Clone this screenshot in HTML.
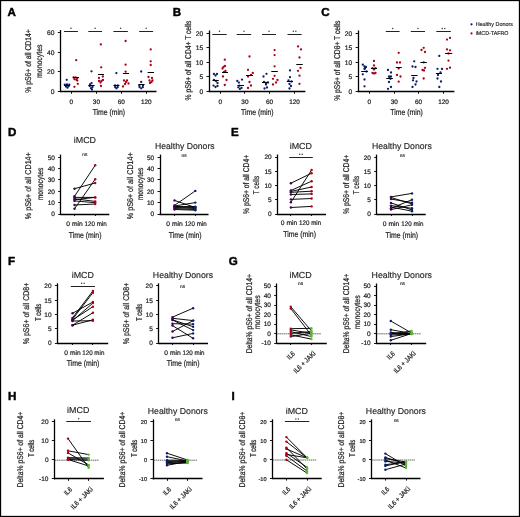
<!DOCTYPE html>
<html><head><meta charset="utf-8"><title>Figure</title>
<style>
html,body{margin:0;padding:0;background:#fff;width:520px;height:517px;overflow:hidden;}
svg{display:block;will-change:transform;}
text{font-family:"Liberation Sans", sans-serif;stroke:#231f20;stroke-width:0.22px;text-rendering:geometricPrecision;}
text[font-weight="bold"]{stroke:#000;stroke-width:0.45px;}
text.t{stroke-width:0.15px;}
</style></head><body>
<svg width="520" height="517" viewBox="0 0 520 517" font-family='&quot;Liberation Sans&quot;, sans-serif' fill="#231f20">
<rect x="0" y="0" width="520" height="517" fill="#fff"/>
<text x="7.4" y="15.71" font-size="11.6" font-weight="bold" fill="#000">A</text>
<line x1="60.5" y1="30" x2="60.5" y2="92.1" stroke="#000" stroke-width="1.3"/>
<line x1="57.8" y1="91.5" x2="60.5" y2="91.5" stroke="#000" stroke-width="0.9"/>
<text x="54.5" y="94.01" font-size="6.7" text-anchor="end">0</text>
<line x1="57.8" y1="71.5" x2="60.5" y2="71.5" stroke="#000" stroke-width="0.9"/>
<text x="54.5" y="74.38" font-size="6.7" text-anchor="end">20</text>
<line x1="57.8" y1="52.5" x2="60.5" y2="52.5" stroke="#000" stroke-width="0.9"/>
<text x="54.5" y="54.75" font-size="6.7" text-anchor="end">40</text>
<line x1="57.8" y1="32.5" x2="60.5" y2="32.5" stroke="#000" stroke-width="0.9"/>
<text x="54.5" y="35.11" font-size="6.7" text-anchor="end">60</text>
<line x1="60" y1="91.5" x2="156.5" y2="91.5" stroke="#000" stroke-width="1.3"/>
<line x1="71.5" y1="91.6" x2="71.5" y2="93.8" stroke="#000" stroke-width="0.9"/>
<line x1="96.5" y1="91.6" x2="96.5" y2="93.8" stroke="#000" stroke-width="0.9"/>
<line x1="121.5" y1="91.6" x2="121.5" y2="93.8" stroke="#000" stroke-width="0.9"/>
<line x1="146.5" y1="91.6" x2="146.5" y2="93.8" stroke="#000" stroke-width="0.9"/>
<text x="71.2" y="103.9" font-size="6.4" text-anchor="middle">0</text>
<text x="96.4" y="103.9" font-size="6.4" text-anchor="middle">30</text>
<text x="121.3" y="103.9" font-size="6.4" text-anchor="middle">60</text>
<text x="146.3" y="103.9" font-size="6.4" text-anchor="middle">120</text>
<text x="108.9" y="115.4" font-size="8.4" text-anchor="middle" textLength="32.5" lengthAdjust="spacingAndGlyphs">Time (min)</text>
<text x="31.2" y="61" font-size="8.4" text-anchor="middle" textLength="63.5" lengthAdjust="spacingAndGlyphs" transform="rotate(-90 31.2 61)">% pS6+ of all CD14+</text>
<text x="42" y="61.2" font-size="8.4" text-anchor="middle" textLength="33.4" lengthAdjust="spacingAndGlyphs" transform="rotate(-90 42 61.2)">monocytes</text>
<circle cx="66.7" cy="79.8" r="1.15" fill="#0b1f68"/>
<circle cx="64.8" cy="84.6" r="1.15" fill="#0b1f68"/>
<circle cx="67" cy="84.3" r="1.15" fill="#0b1f68"/>
<circle cx="69.3" cy="84.6" r="1.15" fill="#0b1f68"/>
<circle cx="66" cy="86.5" r="1.15" fill="#0b1f68"/>
<circle cx="67.5" cy="87.7" r="1.15" fill="#0b1f68"/>
<circle cx="68.5" cy="86.2" r="1.15" fill="#0b1f68"/>
<circle cx="76.2" cy="60.2" r="1.15" fill="#aa001a"/>
<circle cx="73.5" cy="77.5" r="1.15" fill="#aa001a"/>
<circle cx="75.5" cy="77.3" r="1.15" fill="#aa001a"/>
<circle cx="77.2" cy="78.3" r="1.15" fill="#aa001a"/>
<circle cx="74.5" cy="79.2" r="1.15" fill="#aa001a"/>
<circle cx="76.3" cy="79.8" r="1.15" fill="#aa001a"/>
<circle cx="77.3" cy="80.6" r="1.15" fill="#aa001a"/>
<circle cx="77.8" cy="83.8" r="1.15" fill="#aa001a"/>
<circle cx="74.4" cy="86.8" r="1.15" fill="#aa001a"/>
<line x1="64" y1="85.5" x2="70.1" y2="85.5" stroke="#000" stroke-width="1"/>
<line x1="73" y1="77.5" x2="79" y2="77.5" stroke="#000" stroke-width="1"/>
<circle cx="91.5" cy="71.3" r="1.15" fill="#0b1f68"/>
<circle cx="91.5" cy="83.2" r="1.15" fill="#0b1f68"/>
<circle cx="90" cy="84.5" r="1.15" fill="#0b1f68"/>
<circle cx="89.7" cy="86" r="1.15" fill="#0b1f68"/>
<circle cx="92.5" cy="87" r="1.15" fill="#0b1f68"/>
<circle cx="91" cy="88.2" r="1.15" fill="#0b1f68"/>
<circle cx="92" cy="89.5" r="1.15" fill="#0b1f68"/>
<circle cx="100.8" cy="44.4" r="1.15" fill="#aa001a"/>
<circle cx="101.2" cy="67.3" r="1.15" fill="#aa001a"/>
<circle cx="99" cy="77.9" r="1.15" fill="#aa001a"/>
<circle cx="102.8" cy="76.5" r="1.15" fill="#aa001a"/>
<circle cx="99" cy="81" r="1.15" fill="#aa001a"/>
<circle cx="101.5" cy="81" r="1.15" fill="#aa001a"/>
<circle cx="103" cy="80" r="1.15" fill="#aa001a"/>
<circle cx="100.5" cy="82.5" r="1.15" fill="#aa001a"/>
<circle cx="101" cy="86" r="1.15" fill="#aa001a"/>
<line x1="88.4" y1="85.5" x2="94.6" y2="85.5" stroke="#000" stroke-width="1"/>
<line x1="98" y1="74.5" x2="104" y2="74.5" stroke="#000" stroke-width="1"/>
<circle cx="116.4" cy="73.1" r="1.15" fill="#0b1f68"/>
<circle cx="115" cy="85.5" r="1.15" fill="#0b1f68"/>
<circle cx="117.8" cy="85.5" r="1.15" fill="#0b1f68"/>
<circle cx="115.2" cy="87.2" r="1.15" fill="#0b1f68"/>
<circle cx="117.6" cy="87.2" r="1.15" fill="#0b1f68"/>
<circle cx="116.4" cy="88.3" r="1.15" fill="#0b1f68"/>
<circle cx="125.6" cy="41" r="1.15" fill="#aa001a"/>
<circle cx="125.6" cy="64.7" r="1.15" fill="#aa001a"/>
<circle cx="125.6" cy="71.7" r="1.15" fill="#aa001a"/>
<circle cx="124" cy="80.5" r="1.15" fill="#aa001a"/>
<circle cx="127" cy="80.5" r="1.15" fill="#aa001a"/>
<circle cx="126" cy="82" r="1.15" fill="#aa001a"/>
<circle cx="128.5" cy="83.5" r="1.15" fill="#aa001a"/>
<circle cx="123" cy="86.5" r="1.15" fill="#aa001a"/>
<circle cx="125" cy="84" r="1.15" fill="#aa001a"/>
<line x1="113.5" y1="85.5" x2="119.5" y2="85.5" stroke="#000" stroke-width="1"/>
<line x1="122.9" y1="73.5" x2="129" y2="73.5" stroke="#000" stroke-width="1"/>
<circle cx="141.2" cy="71.5" r="1.15" fill="#0b1f68"/>
<circle cx="141.2" cy="81.9" r="1.15" fill="#0b1f68"/>
<circle cx="139.3" cy="85.5" r="1.15" fill="#0b1f68"/>
<circle cx="143" cy="85.5" r="1.15" fill="#0b1f68"/>
<circle cx="139.6" cy="87.2" r="1.15" fill="#0b1f68"/>
<circle cx="142.8" cy="87.2" r="1.15" fill="#0b1f68"/>
<circle cx="141.2" cy="88.3" r="1.15" fill="#0b1f68"/>
<circle cx="150.7" cy="49.4" r="1.15" fill="#aa001a"/>
<circle cx="150.7" cy="61.3" r="1.15" fill="#aa001a"/>
<circle cx="150.7" cy="65" r="1.15" fill="#aa001a"/>
<circle cx="148.5" cy="77" r="1.15" fill="#aa001a"/>
<circle cx="152" cy="78" r="1.15" fill="#aa001a"/>
<circle cx="149.5" cy="80.5" r="1.15" fill="#aa001a"/>
<circle cx="151.5" cy="82" r="1.15" fill="#aa001a"/>
<circle cx="150" cy="83" r="1.15" fill="#aa001a"/>
<circle cx="152.5" cy="80.5" r="1.15" fill="#aa001a"/>
<line x1="138.5" y1="84.5" x2="144.6" y2="84.5" stroke="#000" stroke-width="1"/>
<line x1="147.6" y1="72.5" x2="154" y2="72.5" stroke="#000" stroke-width="1"/>
<line x1="64" y1="31.5" x2="77.9" y2="31.5" stroke="#222" stroke-width="1"/>
<circle cx="70.95" cy="28.3" r="0.72" fill="#333"/>
<line x1="88.3" y1="31.5" x2="102" y2="31.5" stroke="#222" stroke-width="1"/>
<circle cx="95.15" cy="28.3" r="0.72" fill="#333"/>
<line x1="113.4" y1="31.5" x2="127.9" y2="31.5" stroke="#222" stroke-width="1"/>
<circle cx="120.65" cy="28.3" r="0.72" fill="#333"/>
<line x1="139.2" y1="31.5" x2="153.1" y2="31.5" stroke="#222" stroke-width="1"/>
<circle cx="146.15" cy="28.3" r="0.72" fill="#333"/>
<text x="172.8" y="15.71" font-size="11.6" font-weight="bold" fill="#000">B</text>
<line x1="209.5" y1="30.5" x2="209.5" y2="92.1" stroke="#000" stroke-width="1.3"/>
<line x1="206.5" y1="91.5" x2="209.2" y2="91.5" stroke="#000" stroke-width="0.9"/>
<text x="203.2" y="94.01" font-size="6.7" text-anchor="end">0</text>
<line x1="206.5" y1="76.5" x2="209.2" y2="76.5" stroke="#000" stroke-width="0.9"/>
<text x="203.2" y="79.39" font-size="6.7" text-anchor="end">5</text>
<line x1="206.5" y1="62.5" x2="209.2" y2="62.5" stroke="#000" stroke-width="0.9"/>
<text x="203.2" y="64.76" font-size="6.7" text-anchor="end">10</text>
<line x1="206.5" y1="47.5" x2="209.2" y2="47.5" stroke="#000" stroke-width="0.9"/>
<text x="203.2" y="50.14" font-size="6.7" text-anchor="end">15</text>
<line x1="206.5" y1="33.5" x2="209.2" y2="33.5" stroke="#000" stroke-width="0.9"/>
<text x="203.2" y="35.51" font-size="6.7" text-anchor="end">20</text>
<line x1="208.7" y1="91.5" x2="305.4" y2="91.5" stroke="#000" stroke-width="1.3"/>
<line x1="220.5" y1="91.6" x2="220.5" y2="93.8" stroke="#000" stroke-width="0.9"/>
<line x1="244.5" y1="91.6" x2="244.5" y2="93.8" stroke="#000" stroke-width="0.9"/>
<line x1="269.5" y1="91.6" x2="269.5" y2="93.8" stroke="#000" stroke-width="0.9"/>
<line x1="294.5" y1="91.6" x2="294.5" y2="93.8" stroke="#000" stroke-width="0.9"/>
<text x="220.2" y="103.9" font-size="6.4" text-anchor="middle">0</text>
<text x="244.9" y="103.9" font-size="6.4" text-anchor="middle">30</text>
<text x="269.6" y="103.9" font-size="6.4" text-anchor="middle">60</text>
<text x="294.6" y="103.9" font-size="6.4" text-anchor="middle">120</text>
<text x="257.3" y="115.4" font-size="8.4" text-anchor="middle" textLength="32.5" lengthAdjust="spacingAndGlyphs">Time (min)</text>
<text x="190.6" y="60.5" font-size="8.4" text-anchor="middle" textLength="79.8" lengthAdjust="spacingAndGlyphs" transform="rotate(-90 190.6 60.5)">% pS6+ of all CD4+ T cells</text>
<circle cx="213.9" cy="74" r="1.15" fill="#0b1f68"/>
<circle cx="217" cy="74" r="1.15" fill="#0b1f68"/>
<circle cx="215.5" cy="75.5" r="1.15" fill="#0b1f68"/>
<circle cx="214" cy="80" r="1.15" fill="#0b1f68"/>
<circle cx="216" cy="81" r="1.15" fill="#0b1f68"/>
<circle cx="217.5" cy="83" r="1.15" fill="#0b1f68"/>
<circle cx="213.5" cy="85.6" r="1.15" fill="#0b1f68"/>
<circle cx="215.5" cy="87" r="1.15" fill="#0b1f68"/>
<circle cx="217.5" cy="86" r="1.15" fill="#0b1f68"/>
<circle cx="224.8" cy="59.7" r="1.15" fill="#aa001a"/>
<circle cx="223.5" cy="67" r="1.15" fill="#aa001a"/>
<circle cx="225" cy="66" r="1.15" fill="#aa001a"/>
<circle cx="222.5" cy="68.5" r="1.15" fill="#aa001a"/>
<circle cx="225.5" cy="71" r="1.15" fill="#aa001a"/>
<circle cx="224" cy="72" r="1.15" fill="#aa001a"/>
<circle cx="223" cy="76.5" r="1.15" fill="#aa001a"/>
<circle cx="226.5" cy="80" r="1.15" fill="#aa001a"/>
<circle cx="224.8" cy="85" r="1.15" fill="#aa001a"/>
<line x1="212.5" y1="80.5" x2="218.8" y2="80.5" stroke="#000" stroke-width="1"/>
<line x1="222" y1="72.5" x2="228" y2="72.5" stroke="#000" stroke-width="1"/>
<circle cx="237.3" cy="81" r="1.15" fill="#0b1f68"/>
<circle cx="238.9" cy="82.6" r="1.15" fill="#0b1f68"/>
<circle cx="242" cy="79.6" r="1.15" fill="#0b1f68"/>
<circle cx="238.3" cy="87.3" r="1.15" fill="#0b1f68"/>
<circle cx="239.9" cy="88.9" r="1.15" fill="#0b1f68"/>
<circle cx="241.5" cy="87.9" r="1.15" fill="#0b1f68"/>
<circle cx="239.4" cy="85.7" r="1.15" fill="#0b1f68"/>
<circle cx="249.5" cy="56.5" r="1.15" fill="#aa001a"/>
<circle cx="248" cy="69.8" r="1.15" fill="#aa001a"/>
<circle cx="252.8" cy="73" r="1.15" fill="#aa001a"/>
<circle cx="248" cy="76.5" r="1.15" fill="#aa001a"/>
<circle cx="251" cy="75" r="1.15" fill="#aa001a"/>
<circle cx="249.5" cy="82" r="1.15" fill="#aa001a"/>
<circle cx="251" cy="85.5" r="1.15" fill="#aa001a"/>
<circle cx="248" cy="88" r="1.15" fill="#aa001a"/>
<line x1="237.3" y1="85.5" x2="244" y2="85.5" stroke="#000" stroke-width="1"/>
<line x1="246" y1="75.5" x2="253" y2="75.5" stroke="#000" stroke-width="1"/>
<circle cx="266.5" cy="73.8" r="1.15" fill="#0b1f68"/>
<circle cx="263.5" cy="76.5" r="1.15" fill="#0b1f68"/>
<circle cx="264" cy="82" r="1.15" fill="#0b1f68"/>
<circle cx="266" cy="83" r="1.15" fill="#0b1f68"/>
<circle cx="268" cy="82.5" r="1.15" fill="#0b1f68"/>
<circle cx="264.5" cy="88.5" r="1.15" fill="#0b1f68"/>
<circle cx="267" cy="87.5" r="1.15" fill="#0b1f68"/>
<circle cx="266" cy="84.5" r="1.15" fill="#0b1f68"/>
<circle cx="274.6" cy="50.1" r="1.15" fill="#aa001a"/>
<circle cx="274.6" cy="55.1" r="1.15" fill="#aa001a"/>
<circle cx="274.6" cy="66.3" r="1.15" fill="#aa001a"/>
<circle cx="274.6" cy="75.8" r="1.15" fill="#aa001a"/>
<circle cx="273" cy="78.8" r="1.15" fill="#aa001a"/>
<circle cx="277.5" cy="80" r="1.15" fill="#aa001a"/>
<circle cx="276" cy="82.5" r="1.15" fill="#aa001a"/>
<circle cx="273" cy="84.5" r="1.15" fill="#aa001a"/>
<line x1="262" y1="82.5" x2="268.5" y2="82.5" stroke="#000" stroke-width="1"/>
<line x1="271.3" y1="71.5" x2="277.8" y2="71.5" stroke="#000" stroke-width="1"/>
<circle cx="290" cy="70.4" r="1.15" fill="#0b1f68"/>
<circle cx="290" cy="77.2" r="1.15" fill="#0b1f68"/>
<circle cx="288.5" cy="80.5" r="1.15" fill="#0b1f68"/>
<circle cx="291.5" cy="81.5" r="1.15" fill="#0b1f68"/>
<circle cx="289.5" cy="84" r="1.15" fill="#0b1f68"/>
<circle cx="291" cy="86" r="1.15" fill="#0b1f68"/>
<circle cx="289.5" cy="88.5" r="1.15" fill="#0b1f68"/>
<circle cx="298.1" cy="46.4" r="1.15" fill="#aa001a"/>
<circle cx="301" cy="49.4" r="1.15" fill="#aa001a"/>
<circle cx="299.5" cy="57.5" r="1.15" fill="#aa001a"/>
<circle cx="300.5" cy="67.9" r="1.15" fill="#aa001a"/>
<circle cx="298" cy="70.8" r="1.15" fill="#aa001a"/>
<circle cx="299.5" cy="75.7" r="1.15" fill="#aa001a"/>
<circle cx="299.5" cy="83.8" r="1.15" fill="#aa001a"/>
<line x1="286.8" y1="81.5" x2="293" y2="81.5" stroke="#000" stroke-width="1"/>
<line x1="296.3" y1="64.5" x2="302.7" y2="64.5" stroke="#000" stroke-width="1"/>
<line x1="212.3" y1="34.5" x2="226.7" y2="34.5" stroke="#222" stroke-width="1"/>
<circle cx="219.5" cy="31.3" r="0.72" fill="#333"/>
<line x1="236.7" y1="34.5" x2="251.2" y2="34.5" stroke="#222" stroke-width="1"/>
<circle cx="243.95" cy="31.3" r="0.72" fill="#333"/>
<line x1="262" y1="34.5" x2="276" y2="34.5" stroke="#222" stroke-width="1"/>
<circle cx="269" cy="31.3" r="0.72" fill="#333"/>
<line x1="287.5" y1="34.5" x2="301.7" y2="34.5" stroke="#222" stroke-width="1"/>
<circle cx="293.35" cy="31.3" r="0.72" fill="#333"/>
<circle cx="295.85" cy="31.3" r="0.72" fill="#333"/>
<text x="321.2" y="15.71" font-size="11.6" font-weight="bold" fill="#000">C</text>
<line x1="358.5" y1="30.5" x2="358.5" y2="92.1" stroke="#000" stroke-width="1.3"/>
<line x1="355.6" y1="91.5" x2="358.3" y2="91.5" stroke="#000" stroke-width="0.9"/>
<text x="352.3" y="94.01" font-size="6.7" text-anchor="end">0</text>
<line x1="355.6" y1="76.5" x2="358.3" y2="76.5" stroke="#000" stroke-width="0.9"/>
<text x="352.3" y="79.39" font-size="6.7" text-anchor="end">5</text>
<line x1="355.6" y1="62.5" x2="358.3" y2="62.5" stroke="#000" stroke-width="0.9"/>
<text x="352.3" y="64.76" font-size="6.7" text-anchor="end">10</text>
<line x1="355.6" y1="47.5" x2="358.3" y2="47.5" stroke="#000" stroke-width="0.9"/>
<text x="352.3" y="50.14" font-size="6.7" text-anchor="end">15</text>
<line x1="355.6" y1="33.5" x2="358.3" y2="33.5" stroke="#000" stroke-width="0.9"/>
<text x="352.3" y="35.51" font-size="6.7" text-anchor="end">20</text>
<line x1="357.8" y1="91.5" x2="454.4" y2="91.5" stroke="#000" stroke-width="1.3"/>
<line x1="369.5" y1="91.6" x2="369.5" y2="93.8" stroke="#000" stroke-width="0.9"/>
<line x1="394.5" y1="91.6" x2="394.5" y2="93.8" stroke="#000" stroke-width="0.9"/>
<line x1="418.5" y1="91.6" x2="418.5" y2="93.8" stroke="#000" stroke-width="0.9"/>
<line x1="443.5" y1="91.6" x2="443.5" y2="93.8" stroke="#000" stroke-width="0.9"/>
<text x="369.4" y="103.9" font-size="6.4" text-anchor="middle">0</text>
<text x="394.2" y="103.9" font-size="6.4" text-anchor="middle">30</text>
<text x="418.6" y="103.9" font-size="6.4" text-anchor="middle">60</text>
<text x="443.6" y="103.9" font-size="6.4" text-anchor="middle">120</text>
<text x="406.6" y="115.4" font-size="8.4" text-anchor="middle" textLength="32.5" lengthAdjust="spacingAndGlyphs">Time (min)</text>
<text x="340.1" y="60.7" font-size="8.4" text-anchor="middle" textLength="80.3" lengthAdjust="spacingAndGlyphs" transform="rotate(-90 340.1 60.7)">% pS6+ of all CD8+ T cells</text>
<circle cx="362.8" cy="64.7" r="1.15" fill="#0b1f68"/>
<circle cx="364.5" cy="66.5" r="1.15" fill="#0b1f68"/>
<circle cx="366" cy="67" r="1.15" fill="#0b1f68"/>
<circle cx="365" cy="68.2" r="1.15" fill="#0b1f68"/>
<circle cx="364.5" cy="69" r="1.15" fill="#0b1f68"/>
<circle cx="366.5" cy="71.5" r="1.15" fill="#0b1f68"/>
<circle cx="362.8" cy="74.3" r="1.15" fill="#0b1f68"/>
<circle cx="364.5" cy="79.5" r="1.15" fill="#0b1f68"/>
<circle cx="364.5" cy="86.3" r="1.15" fill="#0b1f68"/>
<circle cx="374" cy="61" r="1.15" fill="#aa001a"/>
<circle cx="374" cy="65.5" r="1.15" fill="#aa001a"/>
<circle cx="372.5" cy="68.2" r="1.15" fill="#aa001a"/>
<circle cx="375.5" cy="68.2" r="1.15" fill="#aa001a"/>
<circle cx="374" cy="69.5" r="1.15" fill="#aa001a"/>
<circle cx="372.5" cy="73" r="1.15" fill="#aa001a"/>
<circle cx="374" cy="73.5" r="1.15" fill="#aa001a"/>
<circle cx="375.5" cy="73" r="1.15" fill="#aa001a"/>
<line x1="361.2" y1="71.5" x2="367.8" y2="71.5" stroke="#000" stroke-width="1"/>
<line x1="371" y1="68.5" x2="377" y2="68.5" stroke="#000" stroke-width="1"/>
<circle cx="388" cy="70" r="1.15" fill="#0b1f68"/>
<circle cx="391" cy="72.5" r="1.15" fill="#0b1f68"/>
<circle cx="389" cy="76.5" r="1.15" fill="#0b1f68"/>
<circle cx="391" cy="76.5" r="1.15" fill="#0b1f68"/>
<circle cx="389.5" cy="78" r="1.15" fill="#0b1f68"/>
<circle cx="390.5" cy="78.8" r="1.15" fill="#0b1f68"/>
<circle cx="389" cy="82" r="1.15" fill="#0b1f68"/>
<circle cx="388" cy="88.8" r="1.15" fill="#0b1f68"/>
<circle cx="391" cy="87" r="1.15" fill="#0b1f68"/>
<circle cx="398.7" cy="52.8" r="1.15" fill="#aa001a"/>
<circle cx="397" cy="62.5" r="1.15" fill="#aa001a"/>
<circle cx="400" cy="62.5" r="1.15" fill="#aa001a"/>
<circle cx="398.7" cy="68.5" r="1.15" fill="#aa001a"/>
<circle cx="397" cy="75" r="1.15" fill="#aa001a"/>
<circle cx="400.5" cy="76.5" r="1.15" fill="#aa001a"/>
<circle cx="398.7" cy="81.7" r="1.15" fill="#aa001a"/>
<line x1="386.2" y1="78.5" x2="392.9" y2="78.5" stroke="#000" stroke-width="1"/>
<line x1="395.8" y1="67.5" x2="401.8" y2="67.5" stroke="#000" stroke-width="1"/>
<circle cx="414.2" cy="61.3" r="1.15" fill="#0b1f68"/>
<circle cx="412.5" cy="66.5" r="1.15" fill="#0b1f68"/>
<circle cx="415.5" cy="67" r="1.15" fill="#0b1f68"/>
<circle cx="413.5" cy="78" r="1.15" fill="#0b1f68"/>
<circle cx="413" cy="80.3" r="1.15" fill="#0b1f68"/>
<circle cx="416.5" cy="81.5" r="1.15" fill="#0b1f68"/>
<circle cx="415.5" cy="84.5" r="1.15" fill="#0b1f68"/>
<circle cx="412.5" cy="87" r="1.15" fill="#0b1f68"/>
<circle cx="423.7" cy="47.8" r="1.15" fill="#aa001a"/>
<circle cx="421.5" cy="50" r="1.15" fill="#aa001a"/>
<circle cx="425" cy="52" r="1.15" fill="#aa001a"/>
<circle cx="423.7" cy="62.3" r="1.15" fill="#aa001a"/>
<circle cx="425" cy="67.8" r="1.15" fill="#aa001a"/>
<circle cx="422.5" cy="70" r="1.15" fill="#aa001a"/>
<circle cx="424" cy="70.5" r="1.15" fill="#aa001a"/>
<circle cx="423.7" cy="78.5" r="1.15" fill="#aa001a"/>
<line x1="411.2" y1="75.5" x2="417.6" y2="75.5" stroke="#000" stroke-width="1"/>
<line x1="420.3" y1="62.5" x2="426.8" y2="62.5" stroke="#000" stroke-width="1"/>
<circle cx="439.3" cy="55.9" r="1.15" fill="#0b1f68"/>
<circle cx="437.5" cy="68.8" r="1.15" fill="#0b1f68"/>
<circle cx="442" cy="69" r="1.15" fill="#0b1f68"/>
<circle cx="440.5" cy="72.5" r="1.15" fill="#0b1f68"/>
<circle cx="438" cy="75" r="1.15" fill="#0b1f68"/>
<circle cx="437.5" cy="78.5" r="1.15" fill="#0b1f68"/>
<circle cx="441" cy="81.5" r="1.15" fill="#0b1f68"/>
<circle cx="439.3" cy="87" r="1.15" fill="#0b1f68"/>
<circle cx="447" cy="39.6" r="1.15" fill="#aa001a"/>
<circle cx="450" cy="37.9" r="1.15" fill="#aa001a"/>
<circle cx="447" cy="49.4" r="1.15" fill="#aa001a"/>
<circle cx="450" cy="50.3" r="1.15" fill="#aa001a"/>
<circle cx="448.5" cy="53.5" r="1.15" fill="#aa001a"/>
<circle cx="448.5" cy="60.6" r="1.15" fill="#aa001a"/>
<circle cx="447" cy="68.8" r="1.15" fill="#aa001a"/>
<circle cx="450" cy="67.7" r="1.15" fill="#aa001a"/>
<line x1="435.9" y1="73.5" x2="442" y2="73.5" stroke="#000" stroke-width="1"/>
<line x1="445.1" y1="53.5" x2="452.2" y2="53.5" stroke="#000" stroke-width="1"/>
<line x1="385.8" y1="31.5" x2="399.6" y2="31.5" stroke="#222" stroke-width="1"/>
<circle cx="392.7" cy="28.5" r="0.72" fill="#333"/>
<line x1="410.8" y1="31.5" x2="425" y2="31.5" stroke="#222" stroke-width="1"/>
<circle cx="417.9" cy="28.5" r="0.72" fill="#333"/>
<line x1="436.3" y1="31.5" x2="450.8" y2="31.5" stroke="#222" stroke-width="1"/>
<circle cx="442.3" cy="28.5" r="0.72" fill="#333"/>
<circle cx="444.8" cy="28.5" r="0.72" fill="#333"/>
<circle cx="471.5" cy="24.3" r="1.1" fill="#0b1f68"/>
<text x="475.7" y="26.2" font-size="5.6" textLength="37.3" lengthAdjust="spacingAndGlyphs" class="t">Healthy Donors</text>
<circle cx="471.5" cy="33.4" r="1.1" fill="#aa001a"/>
<text x="475.7" y="35.3" font-size="5.6" textLength="32.8" lengthAdjust="spacingAndGlyphs" class="t">iMCD-TAFRO</text>
<text x="8" y="135.91" font-size="11.6" font-weight="bold" fill="#000">D</text>
<line x1="60.5" y1="154.6" x2="60.5" y2="214.5" stroke="#000" stroke-width="1.3"/>
<line x1="58.2" y1="214.5" x2="60.8" y2="214.5" stroke="#000" stroke-width="0.9"/>
<text x="54.9" y="216.34" font-size="6.5" text-anchor="end">0</text>
<line x1="58.2" y1="202.5" x2="60.8" y2="202.5" stroke="#000" stroke-width="0.9"/>
<text x="54.9" y="204.98" font-size="6.5" text-anchor="end">10</text>
<line x1="58.2" y1="191.5" x2="60.8" y2="191.5" stroke="#000" stroke-width="0.9"/>
<text x="54.9" y="193.62" font-size="6.5" text-anchor="end">20</text>
<line x1="58.2" y1="179.5" x2="60.8" y2="179.5" stroke="#000" stroke-width="0.9"/>
<text x="54.9" y="182.26" font-size="6.5" text-anchor="end">30</text>
<line x1="58.2" y1="168.5" x2="60.8" y2="168.5" stroke="#000" stroke-width="0.9"/>
<text x="54.9" y="170.9" font-size="6.5" text-anchor="end">40</text>
<line x1="58.2" y1="157.5" x2="60.8" y2="157.5" stroke="#000" stroke-width="0.9"/>
<text x="54.9" y="159.54" font-size="6.5" text-anchor="end">50</text>
<line x1="60.3" y1="214.5" x2="109.3" y2="214.5" stroke="#000" stroke-width="1.3"/>
<line x1="74.5" y1="214" x2="74.5" y2="216" stroke="#000" stroke-width="0.9"/>
<line x1="95.5" y1="214" x2="95.5" y2="216" stroke="#000" stroke-width="0.9"/>
<text x="84.9" y="143.05" font-size="8.7" text-anchor="middle" textLength="22.2" lengthAdjust="spacingAndGlyphs" class="t">iMCD</text>
<text x="84.9" y="155.8" font-size="4.8" text-anchor="middle" class="t">ns</text>
<line x1="74.5" y1="188.7" x2="95.2" y2="183" stroke="#000" stroke-width="0.95"/>
<line x1="74.5" y1="196.3" x2="95.2" y2="165.3" stroke="#000" stroke-width="0.95"/>
<line x1="74.5" y1="208.8" x2="95.2" y2="179.2" stroke="#000" stroke-width="0.95"/>
<line x1="74.5" y1="197.4" x2="95.2" y2="197.4" stroke="#000" stroke-width="0.95"/>
<line x1="74.5" y1="198.8" x2="95.2" y2="201.4" stroke="#000" stroke-width="0.95"/>
<line x1="74.5" y1="199.7" x2="95.2" y2="197.4" stroke="#000" stroke-width="0.95"/>
<line x1="74.5" y1="200.9" x2="95.2" y2="202.7" stroke="#000" stroke-width="0.95"/>
<line x1="74.5" y1="205" x2="95.2" y2="204" stroke="#000" stroke-width="0.95"/>
<circle cx="74.5" cy="188.7" r="1.2" fill="#3a0450"/>
<circle cx="95.2" cy="183" r="1.2" fill="#aa001a"/>
<circle cx="74.5" cy="196.3" r="1.2" fill="#3a0450"/>
<circle cx="95.2" cy="165.3" r="1.2" fill="#aa001a"/>
<circle cx="74.5" cy="208.8" r="1.2" fill="#3a0450"/>
<circle cx="95.2" cy="179.2" r="1.2" fill="#aa001a"/>
<circle cx="74.5" cy="197.4" r="1.2" fill="#3a0450"/>
<circle cx="95.2" cy="197.4" r="1.2" fill="#aa001a"/>
<circle cx="74.5" cy="198.8" r="1.2" fill="#3a0450"/>
<circle cx="95.2" cy="201.4" r="1.2" fill="#aa001a"/>
<circle cx="74.5" cy="199.7" r="1.2" fill="#3a0450"/>
<circle cx="95.2" cy="197.4" r="1.2" fill="#aa001a"/>
<circle cx="74.5" cy="200.9" r="1.2" fill="#3a0450"/>
<circle cx="95.2" cy="202.7" r="1.2" fill="#aa001a"/>
<circle cx="74.5" cy="205" r="1.2" fill="#3a0450"/>
<circle cx="95.2" cy="204" r="1.2" fill="#aa001a"/>
<text x="31.1" y="185.7" font-size="8.4" text-anchor="middle" textLength="67" lengthAdjust="spacingAndGlyphs" transform="rotate(-90 31.1 185.7)">% pS6+ of all CD14+</text>
<text x="42.7" y="184" font-size="8.4" text-anchor="middle" textLength="32.5" lengthAdjust="spacingAndGlyphs" transform="rotate(-90 42.7 184)">monocytes</text>
<text x="74.5" y="225.8" font-size="6.6" text-anchor="middle" textLength="16.3" lengthAdjust="spacingAndGlyphs">0 min</text>
<text x="95.6" y="225.8" font-size="6.6" text-anchor="middle" textLength="22.1" lengthAdjust="spacingAndGlyphs">120 min</text>
<text x="85.15" y="237.7" font-size="8.4" text-anchor="middle" textLength="32.7" lengthAdjust="spacingAndGlyphs">Time (min)</text>
<line x1="160.5" y1="154.6" x2="160.5" y2="214.5" stroke="#000" stroke-width="1.3"/>
<line x1="157.5" y1="214.5" x2="160.1" y2="214.5" stroke="#000" stroke-width="0.9"/>
<text x="154.2" y="216.34" font-size="6.5" text-anchor="end">0</text>
<line x1="157.5" y1="202.5" x2="160.1" y2="202.5" stroke="#000" stroke-width="0.9"/>
<text x="154.2" y="204.98" font-size="6.5" text-anchor="end">10</text>
<line x1="157.5" y1="191.5" x2="160.1" y2="191.5" stroke="#000" stroke-width="0.9"/>
<text x="154.2" y="193.62" font-size="6.5" text-anchor="end">20</text>
<line x1="157.5" y1="179.5" x2="160.1" y2="179.5" stroke="#000" stroke-width="0.9"/>
<text x="154.2" y="182.26" font-size="6.5" text-anchor="end">30</text>
<line x1="157.5" y1="168.5" x2="160.1" y2="168.5" stroke="#000" stroke-width="0.9"/>
<text x="154.2" y="170.9" font-size="6.5" text-anchor="end">40</text>
<line x1="157.5" y1="157.5" x2="160.1" y2="157.5" stroke="#000" stroke-width="0.9"/>
<text x="154.2" y="159.54" font-size="6.5" text-anchor="end">50</text>
<line x1="159.6" y1="214.5" x2="208.5" y2="214.5" stroke="#000" stroke-width="1.3"/>
<line x1="174.5" y1="214" x2="174.5" y2="216" stroke="#000" stroke-width="0.9"/>
<line x1="195.5" y1="214" x2="195.5" y2="216" stroke="#000" stroke-width="0.9"/>
<text x="184.8" y="149.05" font-size="8.7" text-anchor="middle" textLength="59.6" lengthAdjust="spacingAndGlyphs" class="t">Healthy Donors</text>
<text x="184.1" y="156.8" font-size="4.8" text-anchor="middle" class="t">ns</text>
<line x1="174.5" y1="205.4" x2="195.3" y2="190.9" stroke="#000" stroke-width="0.95"/>
<line x1="174.5" y1="200.4" x2="195.3" y2="207.5" stroke="#000" stroke-width="0.95"/>
<line x1="174.5" y1="206" x2="195.3" y2="202.6" stroke="#000" stroke-width="0.95"/>
<line x1="174.5" y1="206.5" x2="195.3" y2="206.6" stroke="#000" stroke-width="0.95"/>
<line x1="174.5" y1="207.5" x2="195.3" y2="208.5" stroke="#000" stroke-width="0.95"/>
<line x1="174.5" y1="208.5" x2="195.3" y2="209.5" stroke="#000" stroke-width="0.95"/>
<line x1="174.5" y1="209.5" x2="195.3" y2="210.2" stroke="#000" stroke-width="0.95"/>
<line x1="174.5" y1="207" x2="195.3" y2="207.5" stroke="#000" stroke-width="0.95"/>
<circle cx="174.5" cy="205.4" r="1.2" fill="#3a0450"/>
<circle cx="195.3" cy="190.9" r="1.2" fill="#0b1f68"/>
<circle cx="174.5" cy="200.4" r="1.2" fill="#3a0450"/>
<circle cx="195.3" cy="207.5" r="1.2" fill="#0b1f68"/>
<circle cx="174.5" cy="206" r="1.2" fill="#3a0450"/>
<circle cx="195.3" cy="202.6" r="1.2" fill="#0b1f68"/>
<circle cx="174.5" cy="206.5" r="1.2" fill="#3a0450"/>
<circle cx="195.3" cy="206.6" r="1.2" fill="#0b1f68"/>
<circle cx="174.5" cy="207.5" r="1.2" fill="#3a0450"/>
<circle cx="195.3" cy="208.5" r="1.2" fill="#0b1f68"/>
<circle cx="174.5" cy="208.5" r="1.2" fill="#3a0450"/>
<circle cx="195.3" cy="209.5" r="1.2" fill="#0b1f68"/>
<circle cx="174.5" cy="209.5" r="1.2" fill="#3a0450"/>
<circle cx="195.3" cy="210.2" r="1.2" fill="#0b1f68"/>
<circle cx="174.5" cy="207" r="1.2" fill="#3a0450"/>
<circle cx="195.3" cy="207.5" r="1.2" fill="#0b1f68"/>
<text x="133.4" y="185.7" font-size="8.4" text-anchor="middle" textLength="67" lengthAdjust="spacingAndGlyphs" transform="rotate(-90 133.4 185.7)">% pS6+ of all CD14+</text>
<text x="142.7" y="184" font-size="8.4" text-anchor="middle" textLength="32.5" lengthAdjust="spacingAndGlyphs" transform="rotate(-90 142.7 184)">monocytes</text>
<text x="174.5" y="225.8" font-size="6.6" text-anchor="middle" textLength="16.3" lengthAdjust="spacingAndGlyphs">0 min</text>
<text x="195.7" y="225.8" font-size="6.6" text-anchor="middle" textLength="22.1" lengthAdjust="spacingAndGlyphs">120 min</text>
<text x="185.2" y="237.7" font-size="8.4" text-anchor="middle" textLength="32.7" lengthAdjust="spacingAndGlyphs">Time (min)</text>
<text x="231.1" y="135.91" font-size="11.6" font-weight="bold" fill="#000">E</text>
<line x1="277.5" y1="154.5" x2="277.5" y2="214.5" stroke="#000" stroke-width="1.3"/>
<line x1="275" y1="214.5" x2="277.6" y2="214.5" stroke="#000" stroke-width="0.9"/>
<text x="271.7" y="216.34" font-size="6.5" text-anchor="end">0</text>
<line x1="275" y1="199.5" x2="277.6" y2="199.5" stroke="#000" stroke-width="0.9"/>
<text x="271.7" y="202.12" font-size="6.5" text-anchor="end">5</text>
<line x1="275" y1="185.5" x2="277.6" y2="185.5" stroke="#000" stroke-width="0.9"/>
<text x="271.7" y="187.89" font-size="6.5" text-anchor="end">10</text>
<line x1="275" y1="171.5" x2="277.6" y2="171.5" stroke="#000" stroke-width="0.9"/>
<text x="271.7" y="173.66" font-size="6.5" text-anchor="end">15</text>
<line x1="275" y1="157.5" x2="277.6" y2="157.5" stroke="#000" stroke-width="0.9"/>
<text x="271.7" y="159.44" font-size="6.5" text-anchor="end">20</text>
<line x1="277.1" y1="214.5" x2="326" y2="214.5" stroke="#000" stroke-width="1.3"/>
<line x1="290.5" y1="214" x2="290.5" y2="216" stroke="#000" stroke-width="0.9"/>
<line x1="311.5" y1="214" x2="311.5" y2="216" stroke="#000" stroke-width="0.9"/>
<text x="300.8" y="149.15" font-size="8.7" text-anchor="middle" textLength="22.2" lengthAdjust="spacingAndGlyphs" class="t">iMCD</text>
<line x1="289.2" y1="157.5" x2="312.8" y2="157.5" stroke="#222" stroke-width="1"/>
<circle cx="299.75" cy="154.2" r="0.72" fill="#333"/>
<circle cx="302.25" cy="154.2" r="0.72" fill="#333"/>
<line x1="290.9" y1="183.2" x2="311.6" y2="173.2" stroke="#000" stroke-width="0.95"/>
<line x1="290.9" y1="202.3" x2="311.6" y2="170" stroke="#000" stroke-width="0.95"/>
<line x1="290.9" y1="190.5" x2="311.6" y2="181.2" stroke="#000" stroke-width="0.95"/>
<line x1="290.9" y1="191.4" x2="311.6" y2="187" stroke="#000" stroke-width="0.95"/>
<line x1="290.9" y1="192.3" x2="311.6" y2="191.2" stroke="#000" stroke-width="0.95"/>
<line x1="290.9" y1="194.5" x2="311.6" y2="193.9" stroke="#000" stroke-width="0.95"/>
<line x1="290.9" y1="199.4" x2="311.6" y2="198.5" stroke="#000" stroke-width="0.95"/>
<line x1="290.9" y1="207.5" x2="311.6" y2="206.4" stroke="#000" stroke-width="0.95"/>
<circle cx="290.9" cy="183.2" r="1.2" fill="#3a0450"/>
<circle cx="311.6" cy="173.2" r="1.2" fill="#aa001a"/>
<circle cx="290.9" cy="202.3" r="1.2" fill="#3a0450"/>
<circle cx="311.6" cy="170" r="1.2" fill="#aa001a"/>
<circle cx="290.9" cy="190.5" r="1.2" fill="#3a0450"/>
<circle cx="311.6" cy="181.2" r="1.2" fill="#aa001a"/>
<circle cx="290.9" cy="191.4" r="1.2" fill="#3a0450"/>
<circle cx="311.6" cy="187" r="1.2" fill="#aa001a"/>
<circle cx="290.9" cy="192.3" r="1.2" fill="#3a0450"/>
<circle cx="311.6" cy="191.2" r="1.2" fill="#aa001a"/>
<circle cx="290.9" cy="194.5" r="1.2" fill="#3a0450"/>
<circle cx="311.6" cy="193.9" r="1.2" fill="#aa001a"/>
<circle cx="290.9" cy="199.4" r="1.2" fill="#3a0450"/>
<circle cx="311.6" cy="198.5" r="1.2" fill="#aa001a"/>
<circle cx="290.9" cy="207.5" r="1.2" fill="#3a0450"/>
<circle cx="311.6" cy="206.4" r="1.2" fill="#aa001a"/>
<text x="249.3" y="184.4" font-size="8.4" text-anchor="middle" textLength="59" lengthAdjust="spacingAndGlyphs" transform="rotate(-90 249.3 184.4)">% pS6+ of all CD4+</text>
<text x="259.3" y="185" font-size="8.4" text-anchor="middle" textLength="18.5" lengthAdjust="spacingAndGlyphs" transform="rotate(-90 259.3 185)">T cells</text>
<text x="289" y="225.4" font-size="6.6" text-anchor="middle" textLength="16.3" lengthAdjust="spacingAndGlyphs">0 min</text>
<text x="310.1" y="225.4" font-size="6.6" text-anchor="middle" textLength="22.1" lengthAdjust="spacingAndGlyphs">120 min</text>
<text x="299.65" y="236.6" font-size="8.4" text-anchor="middle" textLength="32.7" lengthAdjust="spacingAndGlyphs">Time (min)</text>
<line x1="376.5" y1="154.6" x2="376.5" y2="214.5" stroke="#000" stroke-width="1.3"/>
<line x1="374.2" y1="214.5" x2="376.8" y2="214.5" stroke="#000" stroke-width="0.9"/>
<text x="370.9" y="216.34" font-size="6.5" text-anchor="end">0</text>
<line x1="374.2" y1="199.5" x2="376.8" y2="199.5" stroke="#000" stroke-width="0.9"/>
<text x="370.9" y="202.14" font-size="6.5" text-anchor="end">5</text>
<line x1="374.2" y1="185.5" x2="376.8" y2="185.5" stroke="#000" stroke-width="0.9"/>
<text x="370.9" y="187.94" font-size="6.5" text-anchor="end">10</text>
<line x1="374.2" y1="171.5" x2="376.8" y2="171.5" stroke="#000" stroke-width="0.9"/>
<text x="370.9" y="173.74" font-size="6.5" text-anchor="end">15</text>
<line x1="374.2" y1="157.5" x2="376.8" y2="157.5" stroke="#000" stroke-width="0.9"/>
<text x="370.9" y="159.54" font-size="6.5" text-anchor="end">20</text>
<line x1="376.3" y1="214.5" x2="425.7" y2="214.5" stroke="#000" stroke-width="1.3"/>
<line x1="391.5" y1="214" x2="391.5" y2="216" stroke="#000" stroke-width="0.9"/>
<line x1="412.5" y1="214" x2="412.5" y2="216" stroke="#000" stroke-width="0.9"/>
<text x="401.9" y="149.15" font-size="8.7" text-anchor="middle" textLength="59.8" lengthAdjust="spacingAndGlyphs" class="t">Healthy Donors</text>
<text x="402.3" y="156.8" font-size="4.8" text-anchor="middle" class="t">ns</text>
<line x1="391" y1="196.9" x2="412" y2="193.4" stroke="#000" stroke-width="0.95"/>
<line x1="391" y1="197.5" x2="412" y2="203.9" stroke="#000" stroke-width="0.95"/>
<line x1="391" y1="199.1" x2="412" y2="202.6" stroke="#000" stroke-width="0.95"/>
<line x1="391" y1="202.9" x2="412" y2="209.9" stroke="#000" stroke-width="0.95"/>
<line x1="391" y1="205.6" x2="412" y2="208.3" stroke="#000" stroke-width="0.95"/>
<line x1="391" y1="208.3" x2="412" y2="199.7" stroke="#000" stroke-width="0.95"/>
<line x1="391" y1="209.6" x2="412" y2="204.8" stroke="#000" stroke-width="0.95"/>
<line x1="391" y1="207" x2="412" y2="211.2" stroke="#000" stroke-width="0.95"/>
<circle cx="391" cy="196.9" r="1.2" fill="#3a0450"/>
<circle cx="412" cy="193.4" r="1.2" fill="#0b1f68"/>
<circle cx="391" cy="197.5" r="1.2" fill="#3a0450"/>
<circle cx="412" cy="203.9" r="1.2" fill="#0b1f68"/>
<circle cx="391" cy="199.1" r="1.2" fill="#3a0450"/>
<circle cx="412" cy="202.6" r="1.2" fill="#0b1f68"/>
<circle cx="391" cy="202.9" r="1.2" fill="#3a0450"/>
<circle cx="412" cy="209.9" r="1.2" fill="#0b1f68"/>
<circle cx="391" cy="205.6" r="1.2" fill="#3a0450"/>
<circle cx="412" cy="208.3" r="1.2" fill="#0b1f68"/>
<circle cx="391" cy="208.3" r="1.2" fill="#3a0450"/>
<circle cx="412" cy="199.7" r="1.2" fill="#0b1f68"/>
<circle cx="391" cy="209.6" r="1.2" fill="#3a0450"/>
<circle cx="412" cy="204.8" r="1.2" fill="#0b1f68"/>
<circle cx="391" cy="207" r="1.2" fill="#3a0450"/>
<circle cx="412" cy="211.2" r="1.2" fill="#0b1f68"/>
<text x="348.9" y="184.4" font-size="8.4" text-anchor="middle" textLength="59" lengthAdjust="spacingAndGlyphs" transform="rotate(-90 348.9 184.4)">% pS6+ of all CD4+</text>
<text x="359.1" y="185" font-size="8.4" text-anchor="middle" textLength="18.5" lengthAdjust="spacingAndGlyphs" transform="rotate(-90 359.1 185)">T cells</text>
<text x="391" y="225.8" font-size="6.6" text-anchor="middle" textLength="16.3" lengthAdjust="spacingAndGlyphs">0 min</text>
<text x="412.4" y="225.8" font-size="6.6" text-anchor="middle" textLength="22.1" lengthAdjust="spacingAndGlyphs">120 min</text>
<text x="401.8" y="237.7" font-size="8.4" text-anchor="middle" textLength="32.7" lengthAdjust="spacingAndGlyphs">Time (min)</text>
<text x="8" y="264.81" font-size="11.6" font-weight="bold" fill="#000">F</text>
<line x1="57.5" y1="283.3" x2="57.5" y2="343.5" stroke="#000" stroke-width="1.3"/>
<line x1="54.9" y1="343.5" x2="57.5" y2="343.5" stroke="#000" stroke-width="0.9"/>
<text x="51.6" y="345.34" font-size="6.5" text-anchor="end">0</text>
<line x1="54.9" y1="328.5" x2="57.5" y2="328.5" stroke="#000" stroke-width="0.9"/>
<text x="51.6" y="331.06" font-size="6.5" text-anchor="end">5</text>
<line x1="54.9" y1="314.5" x2="57.5" y2="314.5" stroke="#000" stroke-width="0.9"/>
<text x="51.6" y="316.79" font-size="6.5" text-anchor="end">10</text>
<line x1="54.9" y1="300.5" x2="57.5" y2="300.5" stroke="#000" stroke-width="0.9"/>
<text x="51.6" y="302.51" font-size="6.5" text-anchor="end">15</text>
<line x1="54.9" y1="285.5" x2="57.5" y2="285.5" stroke="#000" stroke-width="0.9"/>
<text x="51.6" y="288.24" font-size="6.5" text-anchor="end">20</text>
<line x1="57" y1="343.5" x2="108.2" y2="343.5" stroke="#000" stroke-width="1.3"/>
<line x1="72.5" y1="343" x2="72.5" y2="345" stroke="#000" stroke-width="0.9"/>
<line x1="92.5" y1="343" x2="92.5" y2="345" stroke="#000" stroke-width="0.9"/>
<text x="82.8" y="277.85" font-size="8.7" text-anchor="middle" textLength="22.2" lengthAdjust="spacingAndGlyphs" class="t">iMCD</text>
<line x1="70.8" y1="286.5" x2="95" y2="286.5" stroke="#222" stroke-width="1"/>
<circle cx="81.65" cy="283.3" r="0.72" fill="#333"/>
<circle cx="84.15" cy="283.3" r="0.72" fill="#333"/>
<line x1="72.5" y1="313.3" x2="92.9" y2="302" stroke="#000" stroke-width="0.95"/>
<line x1="72.5" y1="317.9" x2="92.9" y2="290.9" stroke="#000" stroke-width="0.95"/>
<line x1="72.5" y1="319.3" x2="92.9" y2="292.7" stroke="#000" stroke-width="0.95"/>
<line x1="72.5" y1="320.7" x2="92.9" y2="303.1" stroke="#000" stroke-width="0.95"/>
<line x1="72.5" y1="320" x2="92.9" y2="306.7" stroke="#000" stroke-width="0.95"/>
<line x1="72.5" y1="325.2" x2="92.9" y2="312.8" stroke="#000" stroke-width="0.95"/>
<line x1="72.5" y1="325.2" x2="92.9" y2="319.8" stroke="#000" stroke-width="0.95"/>
<line x1="72.5" y1="321" x2="92.9" y2="320.7" stroke="#000" stroke-width="0.95"/>
<circle cx="72.5" cy="313.3" r="1.2" fill="#3a0450"/>
<circle cx="92.9" cy="302" r="1.2" fill="#aa001a"/>
<circle cx="72.5" cy="317.9" r="1.2" fill="#3a0450"/>
<circle cx="92.9" cy="290.9" r="1.2" fill="#aa001a"/>
<circle cx="72.5" cy="319.3" r="1.2" fill="#3a0450"/>
<circle cx="92.9" cy="292.7" r="1.2" fill="#aa001a"/>
<circle cx="72.5" cy="320.7" r="1.2" fill="#3a0450"/>
<circle cx="92.9" cy="303.1" r="1.2" fill="#aa001a"/>
<circle cx="72.5" cy="320" r="1.2" fill="#3a0450"/>
<circle cx="92.9" cy="306.7" r="1.2" fill="#aa001a"/>
<circle cx="72.5" cy="325.2" r="1.2" fill="#3a0450"/>
<circle cx="92.9" cy="312.8" r="1.2" fill="#aa001a"/>
<circle cx="72.5" cy="325.2" r="1.2" fill="#3a0450"/>
<circle cx="92.9" cy="319.8" r="1.2" fill="#aa001a"/>
<circle cx="72.5" cy="321" r="1.2" fill="#3a0450"/>
<circle cx="92.9" cy="320.7" r="1.2" fill="#aa001a"/>
<text x="28.9" y="313.5" font-size="8.4" text-anchor="middle" textLength="61.5" lengthAdjust="spacingAndGlyphs" transform="rotate(-90 28.9 313.5)">% pS6+ of all CD8+</text>
<text x="41.4" y="312.4" font-size="8.4" text-anchor="middle" textLength="17.4" lengthAdjust="spacingAndGlyphs" transform="rotate(-90 41.4 312.4)">T cells</text>
<text x="72.5" y="354.6" font-size="6.6" text-anchor="middle" textLength="16.3" lengthAdjust="spacingAndGlyphs">0 min</text>
<text x="93.3" y="354.6" font-size="6.6" text-anchor="middle" textLength="22.1" lengthAdjust="spacingAndGlyphs">120 min</text>
<text x="83" y="366.4" font-size="8.4" text-anchor="middle" textLength="32.7" lengthAdjust="spacingAndGlyphs">Time (min)</text>
<line x1="158.5" y1="283.3" x2="158.5" y2="343.5" stroke="#000" stroke-width="1.3"/>
<line x1="156.1" y1="343.5" x2="158.7" y2="343.5" stroke="#000" stroke-width="0.9"/>
<text x="152.8" y="345.34" font-size="6.5" text-anchor="end">0</text>
<line x1="156.1" y1="328.5" x2="158.7" y2="328.5" stroke="#000" stroke-width="0.9"/>
<text x="152.8" y="331.06" font-size="6.5" text-anchor="end">5</text>
<line x1="156.1" y1="314.5" x2="158.7" y2="314.5" stroke="#000" stroke-width="0.9"/>
<text x="152.8" y="316.79" font-size="6.5" text-anchor="end">10</text>
<line x1="156.1" y1="300.5" x2="158.7" y2="300.5" stroke="#000" stroke-width="0.9"/>
<text x="152.8" y="302.51" font-size="6.5" text-anchor="end">15</text>
<line x1="156.1" y1="285.5" x2="158.7" y2="285.5" stroke="#000" stroke-width="0.9"/>
<text x="152.8" y="288.24" font-size="6.5" text-anchor="end">20</text>
<line x1="158.2" y1="343.5" x2="208" y2="343.5" stroke="#000" stroke-width="1.3"/>
<line x1="172.5" y1="343" x2="172.5" y2="345" stroke="#000" stroke-width="0.9"/>
<line x1="193.5" y1="343" x2="193.5" y2="345" stroke="#000" stroke-width="0.9"/>
<text x="183" y="278.35" font-size="8.7" text-anchor="middle" textLength="60.3" lengthAdjust="spacingAndGlyphs" class="t">Healthy Donors</text>
<text x="182.6" y="287.6" font-size="4.8" text-anchor="middle" class="t">ns</text>
<line x1="172.5" y1="317.1" x2="193.1" y2="308.2" stroke="#000" stroke-width="0.95"/>
<line x1="172.5" y1="318.3" x2="193.1" y2="320.6" stroke="#000" stroke-width="0.95"/>
<line x1="172.5" y1="319.8" x2="193.1" y2="326.7" stroke="#000" stroke-width="0.95"/>
<line x1="172.5" y1="320" x2="193.1" y2="330.1" stroke="#000" stroke-width="0.95"/>
<line x1="172.5" y1="323.7" x2="193.1" y2="324.1" stroke="#000" stroke-width="0.95"/>
<line x1="172.5" y1="325.6" x2="193.1" y2="338.3" stroke="#000" stroke-width="0.95"/>
<line x1="172.5" y1="331.5" x2="193.1" y2="320.6" stroke="#000" stroke-width="0.95"/>
<line x1="172.5" y1="337.8" x2="193.1" y2="333.4" stroke="#000" stroke-width="0.95"/>
<circle cx="172.5" cy="317.1" r="1.2" fill="#3a0450"/>
<circle cx="193.1" cy="308.2" r="1.2" fill="#0b1f68"/>
<circle cx="172.5" cy="318.3" r="1.2" fill="#3a0450"/>
<circle cx="193.1" cy="320.6" r="1.2" fill="#0b1f68"/>
<circle cx="172.5" cy="319.8" r="1.2" fill="#3a0450"/>
<circle cx="193.1" cy="326.7" r="1.2" fill="#0b1f68"/>
<circle cx="172.5" cy="320" r="1.2" fill="#3a0450"/>
<circle cx="193.1" cy="330.1" r="1.2" fill="#0b1f68"/>
<circle cx="172.5" cy="323.7" r="1.2" fill="#3a0450"/>
<circle cx="193.1" cy="324.1" r="1.2" fill="#0b1f68"/>
<circle cx="172.5" cy="325.6" r="1.2" fill="#3a0450"/>
<circle cx="193.1" cy="338.3" r="1.2" fill="#0b1f68"/>
<circle cx="172.5" cy="331.5" r="1.2" fill="#3a0450"/>
<circle cx="193.1" cy="320.6" r="1.2" fill="#0b1f68"/>
<circle cx="172.5" cy="337.8" r="1.2" fill="#3a0450"/>
<circle cx="193.1" cy="333.4" r="1.2" fill="#0b1f68"/>
<text x="129.3" y="313.5" font-size="8.4" text-anchor="middle" textLength="61.5" lengthAdjust="spacingAndGlyphs" transform="rotate(-90 129.3 313.5)">% pS6+ of all CD8+</text>
<text x="141.9" y="312.4" font-size="8.4" text-anchor="middle" textLength="17.4" lengthAdjust="spacingAndGlyphs" transform="rotate(-90 141.9 312.4)">T cells</text>
<text x="172.5" y="354.6" font-size="6.6" text-anchor="middle" textLength="16.3" lengthAdjust="spacingAndGlyphs">0 min</text>
<text x="193.5" y="354.6" font-size="6.6" text-anchor="middle" textLength="22.1" lengthAdjust="spacingAndGlyphs">120 min</text>
<text x="183.1" y="366.4" font-size="8.4" text-anchor="middle" textLength="32.7" lengthAdjust="spacingAndGlyphs">Time (min)</text>
<text x="228.7" y="264.71" font-size="11.6" font-weight="bold" fill="#000">G</text>
<line x1="276.5" y1="283.5" x2="276.5" y2="343.5" stroke="#000" stroke-width="1.3"/>
<line x1="274.2" y1="343.5" x2="276.8" y2="343.5" stroke="#000" stroke-width="0.9"/>
<text x="270.9" y="345.34" font-size="6.5" text-anchor="end">-10</text>
<line x1="274.2" y1="333.5" x2="276.8" y2="333.5" stroke="#000" stroke-width="0.9"/>
<text x="270.9" y="335.86" font-size="6.5" text-anchor="end">0</text>
<line x1="274.2" y1="324.5" x2="276.8" y2="324.5" stroke="#000" stroke-width="0.9"/>
<text x="270.9" y="326.37" font-size="6.5" text-anchor="end">10</text>
<line x1="274.2" y1="314.5" x2="276.8" y2="314.5" stroke="#000" stroke-width="0.9"/>
<text x="270.9" y="316.89" font-size="6.5" text-anchor="end">20</text>
<line x1="274.2" y1="305.5" x2="276.8" y2="305.5" stroke="#000" stroke-width="0.9"/>
<text x="270.9" y="307.41" font-size="6.5" text-anchor="end">30</text>
<line x1="274.2" y1="295.5" x2="276.8" y2="295.5" stroke="#000" stroke-width="0.9"/>
<text x="270.9" y="297.92" font-size="6.5" text-anchor="end">40</text>
<line x1="274.2" y1="286.5" x2="276.8" y2="286.5" stroke="#000" stroke-width="0.9"/>
<text x="270.9" y="288.44" font-size="6.5" text-anchor="end">50</text>
<line x1="277.3" y1="333.82" x2="321.3" y2="333.82" stroke="#444" stroke-width="0.85" stroke-dasharray="1.5 0.6"/>
<line x1="276.3" y1="343.5" x2="326.8" y2="343.5" stroke="#000" stroke-width="1.3"/>
<line x1="290.5" y1="343" x2="290.5" y2="345" stroke="#000" stroke-width="0.9"/>
<line x1="311.5" y1="343" x2="311.5" y2="345" stroke="#000" stroke-width="0.9"/>
<text x="300.6" y="278.15" font-size="8.7" text-anchor="middle" textLength="22.2" lengthAdjust="spacingAndGlyphs" class="t">iMCD</text>
<text x="300.6" y="285.3" font-size="4.8" text-anchor="middle" class="t">ns</text>
<line x1="290.8" y1="306.8" x2="311.4" y2="330.8" stroke="#000" stroke-width="0.95"/>
<line x1="290.8" y1="308.6" x2="311.4" y2="335.2" stroke="#000" stroke-width="0.95"/>
<line x1="290.8" y1="328.7" x2="311.4" y2="328.3" stroke="#000" stroke-width="0.95"/>
<line x1="290.8" y1="329.9" x2="311.4" y2="333.3" stroke="#000" stroke-width="0.95"/>
<line x1="290.8" y1="331.6" x2="311.4" y2="336.6" stroke="#000" stroke-width="0.95"/>
<line x1="290.8" y1="333.3" x2="311.4" y2="331.6" stroke="#000" stroke-width="0.95"/>
<line x1="290.8" y1="334.9" x2="311.4" y2="339.1" stroke="#000" stroke-width="0.95"/>
<line x1="290.8" y1="336.6" x2="311.4" y2="333.3" stroke="#000" stroke-width="0.95"/>
<circle cx="290.8" cy="306.8" r="1.2" fill="#aa001a"/>
<circle cx="311.4" cy="330.8" r="1.2" fill="#5cb43a"/>
<circle cx="290.8" cy="308.6" r="1.2" fill="#aa001a"/>
<circle cx="311.4" cy="335.2" r="1.2" fill="#5cb43a"/>
<circle cx="290.8" cy="328.7" r="1.2" fill="#aa001a"/>
<circle cx="311.4" cy="328.3" r="1.2" fill="#5cb43a"/>
<circle cx="290.8" cy="329.9" r="1.2" fill="#aa001a"/>
<circle cx="311.4" cy="333.3" r="1.2" fill="#5cb43a"/>
<circle cx="290.8" cy="331.6" r="1.2" fill="#aa001a"/>
<circle cx="311.4" cy="336.6" r="1.2" fill="#5cb43a"/>
<circle cx="290.8" cy="333.3" r="1.2" fill="#aa001a"/>
<circle cx="311.4" cy="331.6" r="1.2" fill="#5cb43a"/>
<circle cx="290.8" cy="334.9" r="1.2" fill="#aa001a"/>
<circle cx="311.4" cy="339.1" r="1.2" fill="#5cb43a"/>
<circle cx="290.8" cy="336.6" r="1.2" fill="#aa001a"/>
<circle cx="311.4" cy="333.3" r="1.2" fill="#5cb43a"/>
<text x="251.8" y="313.6" font-size="8.4" text-anchor="middle" textLength="79.4" lengthAdjust="spacingAndGlyphs" transform="rotate(-90 251.8 313.6)">Delta% pS6+ of all CD14+</text>
<text x="259.9" y="312.3" font-size="8.4" text-anchor="middle" textLength="34" lengthAdjust="spacingAndGlyphs" transform="rotate(-90 259.9 312.3)">monocytes</text>
<text x="295.4" y="354" font-size="7" text-anchor="end" textLength="8.4" lengthAdjust="spacingAndGlyphs" transform="rotate(-45 295.4 354)">IL6</text>
<text x="316" y="354" font-size="7" text-anchor="end" textLength="28" lengthAdjust="spacingAndGlyphs" transform="rotate(-45 316 354)">IL6 + JAKi</text>
<line x1="376.5" y1="283.5" x2="376.5" y2="343.5" stroke="#000" stroke-width="1.3"/>
<line x1="374" y1="343.5" x2="376.6" y2="343.5" stroke="#000" stroke-width="0.9"/>
<text x="370.7" y="345.34" font-size="6.5" text-anchor="end">-10</text>
<line x1="374" y1="333.5" x2="376.6" y2="333.5" stroke="#000" stroke-width="0.9"/>
<text x="370.7" y="335.86" font-size="6.5" text-anchor="end">0</text>
<line x1="374" y1="324.5" x2="376.6" y2="324.5" stroke="#000" stroke-width="0.9"/>
<text x="370.7" y="326.37" font-size="6.5" text-anchor="end">10</text>
<line x1="374" y1="314.5" x2="376.6" y2="314.5" stroke="#000" stroke-width="0.9"/>
<text x="370.7" y="316.89" font-size="6.5" text-anchor="end">20</text>
<line x1="374" y1="305.5" x2="376.6" y2="305.5" stroke="#000" stroke-width="0.9"/>
<text x="370.7" y="307.41" font-size="6.5" text-anchor="end">30</text>
<line x1="374" y1="295.5" x2="376.6" y2="295.5" stroke="#000" stroke-width="0.9"/>
<text x="370.7" y="297.92" font-size="6.5" text-anchor="end">40</text>
<line x1="374" y1="286.5" x2="376.6" y2="286.5" stroke="#000" stroke-width="0.9"/>
<text x="370.7" y="288.44" font-size="6.5" text-anchor="end">50</text>
<line x1="377.1" y1="333.82" x2="420.7" y2="333.82" stroke="#444" stroke-width="0.85" stroke-dasharray="1.5 0.6"/>
<line x1="376.1" y1="343.5" x2="426.2" y2="343.5" stroke="#000" stroke-width="1.3"/>
<line x1="390.5" y1="343" x2="390.5" y2="345" stroke="#000" stroke-width="0.9"/>
<line x1="411.5" y1="343" x2="411.5" y2="345" stroke="#000" stroke-width="0.9"/>
<text x="401.8" y="278.15" font-size="8.7" text-anchor="middle" textLength="60.4" lengthAdjust="spacingAndGlyphs" class="t">Healthy Donors</text>
<text x="402.5" y="285.3" font-size="4.8" text-anchor="middle" class="t">ns</text>
<line x1="390.8" y1="321" x2="411.6" y2="333" stroke="#000" stroke-width="0.95"/>
<line x1="390.8" y1="329.7" x2="411.6" y2="333.5" stroke="#000" stroke-width="0.95"/>
<line x1="390.8" y1="332.4" x2="411.6" y2="334" stroke="#000" stroke-width="0.95"/>
<line x1="390.8" y1="333.7" x2="411.6" y2="333.5" stroke="#000" stroke-width="0.95"/>
<line x1="390.8" y1="335" x2="411.6" y2="334" stroke="#000" stroke-width="0.95"/>
<line x1="390.8" y1="336.6" x2="411.6" y2="333.7" stroke="#000" stroke-width="0.95"/>
<line x1="390.8" y1="340.3" x2="411.6" y2="333.5" stroke="#000" stroke-width="0.95"/>
<line x1="390.8" y1="334" x2="411.6" y2="331" stroke="#000" stroke-width="0.95"/>
<circle cx="390.8" cy="321" r="1.2" fill="#0b1f68"/>
<circle cx="411.6" cy="333" r="1.2" fill="#5cb43a"/>
<circle cx="390.8" cy="329.7" r="1.2" fill="#0b1f68"/>
<circle cx="411.6" cy="333.5" r="1.2" fill="#5cb43a"/>
<circle cx="390.8" cy="332.4" r="1.2" fill="#0b1f68"/>
<circle cx="411.6" cy="334" r="1.2" fill="#5cb43a"/>
<circle cx="390.8" cy="333.7" r="1.2" fill="#0b1f68"/>
<circle cx="411.6" cy="333.5" r="1.2" fill="#5cb43a"/>
<circle cx="390.8" cy="335" r="1.2" fill="#0b1f68"/>
<circle cx="411.6" cy="334" r="1.2" fill="#5cb43a"/>
<circle cx="390.8" cy="336.6" r="1.2" fill="#0b1f68"/>
<circle cx="411.6" cy="333.7" r="1.2" fill="#5cb43a"/>
<circle cx="390.8" cy="340.3" r="1.2" fill="#0b1f68"/>
<circle cx="411.6" cy="333.5" r="1.2" fill="#5cb43a"/>
<circle cx="390.8" cy="334" r="1.2" fill="#0b1f68"/>
<circle cx="411.6" cy="331" r="1.2" fill="#5cb43a"/>
<text x="348.7" y="313.6" font-size="8.4" text-anchor="middle" textLength="79.4" lengthAdjust="spacingAndGlyphs" transform="rotate(-90 348.7 313.6)">Delta% pS6+ of all CD14+</text>
<text x="359.9" y="312.3" font-size="8.4" text-anchor="middle" textLength="34" lengthAdjust="spacingAndGlyphs" transform="rotate(-90 359.9 312.3)">monocytes</text>
<text x="395.4" y="354" font-size="7" text-anchor="end" textLength="8.4" lengthAdjust="spacingAndGlyphs" transform="rotate(-45 395.4 354)">IL6</text>
<text x="416.2" y="354" font-size="7" text-anchor="end" textLength="28" lengthAdjust="spacingAndGlyphs" transform="rotate(-45 416.2 354)">IL6 + JAKi</text>
<text x="8" y="400.31" font-size="11.6" font-weight="bold" fill="#000">H</text>
<line x1="54.5" y1="419.3" x2="54.5" y2="479.4" stroke="#000" stroke-width="1.3"/>
<line x1="51.8" y1="478.5" x2="54.4" y2="478.5" stroke="#000" stroke-width="0.9"/>
<text x="48.5" y="481.24" font-size="6.5" text-anchor="end">-10</text>
<line x1="51.8" y1="459.5" x2="54.4" y2="459.5" stroke="#000" stroke-width="0.9"/>
<text x="48.5" y="462.24" font-size="6.5" text-anchor="end">0</text>
<line x1="51.8" y1="440.5" x2="54.4" y2="440.5" stroke="#000" stroke-width="0.9"/>
<text x="48.5" y="443.24" font-size="6.5" text-anchor="end">10</text>
<line x1="51.8" y1="421.5" x2="54.4" y2="421.5" stroke="#000" stroke-width="0.9"/>
<text x="48.5" y="424.24" font-size="6.5" text-anchor="end">20</text>
<line x1="54.9" y1="460.2" x2="98.4" y2="460.2" stroke="#444" stroke-width="0.85" stroke-dasharray="1.5 0.6"/>
<line x1="53.9" y1="478.5" x2="103.9" y2="478.5" stroke="#000" stroke-width="1.3"/>
<line x1="68.5" y1="478.9" x2="68.5" y2="480.9" stroke="#000" stroke-width="0.9"/>
<line x1="88.5" y1="478.9" x2="88.5" y2="480.9" stroke="#000" stroke-width="0.9"/>
<text x="78.2" y="413.45" font-size="8.7" text-anchor="middle" textLength="22.2" lengthAdjust="spacingAndGlyphs" class="t">iMCD</text>
<line x1="66.3" y1="421.5" x2="91" y2="421.5" stroke="#222" stroke-width="1"/>
<circle cx="78.65" cy="418.7" r="0.72" fill="#333"/>
<line x1="68" y1="438.6" x2="88.7" y2="467.7" stroke="#000" stroke-width="0.95"/>
<line x1="68" y1="450.8" x2="88.7" y2="454.6" stroke="#000" stroke-width="0.95"/>
<line x1="68" y1="452.9" x2="88.7" y2="464.9" stroke="#000" stroke-width="0.95"/>
<line x1="68" y1="457.6" x2="88.7" y2="458" stroke="#000" stroke-width="0.95"/>
<line x1="68" y1="458.7" x2="88.7" y2="459.1" stroke="#000" stroke-width="0.95"/>
<line x1="68" y1="459.5" x2="88.7" y2="466" stroke="#000" stroke-width="0.95"/>
<line x1="68" y1="459.5" x2="88.7" y2="460.3" stroke="#000" stroke-width="0.95"/>
<circle cx="68" cy="438.6" r="1.2" fill="#aa001a"/>
<circle cx="88.7" cy="467.7" r="1.2" fill="#5cb43a"/>
<circle cx="68" cy="450.8" r="1.2" fill="#aa001a"/>
<circle cx="88.7" cy="454.6" r="1.2" fill="#5cb43a"/>
<circle cx="68" cy="452.9" r="1.2" fill="#aa001a"/>
<circle cx="88.7" cy="464.9" r="1.2" fill="#5cb43a"/>
<circle cx="68" cy="457.6" r="1.2" fill="#aa001a"/>
<circle cx="88.7" cy="458" r="1.2" fill="#5cb43a"/>
<circle cx="68" cy="458.7" r="1.2" fill="#aa001a"/>
<circle cx="88.7" cy="459.1" r="1.2" fill="#5cb43a"/>
<circle cx="68" cy="459.5" r="1.2" fill="#aa001a"/>
<circle cx="88.7" cy="466" r="1.2" fill="#5cb43a"/>
<circle cx="68" cy="459.5" r="1.2" fill="#aa001a"/>
<circle cx="88.7" cy="460.3" r="1.2" fill="#5cb43a"/>
<text x="22.7" y="449.6" font-size="8.4" text-anchor="middle" textLength="75.6" lengthAdjust="spacingAndGlyphs" transform="rotate(-90 22.7 449.6)">Delta% pS6+ of all CD4+</text>
<text x="34.4" y="448.4" font-size="8.4" text-anchor="middle" textLength="17.4" lengthAdjust="spacingAndGlyphs" transform="rotate(-90 34.4 448.4)">T cells</text>
<text x="72.6" y="489.9" font-size="7" text-anchor="end" textLength="8.4" lengthAdjust="spacingAndGlyphs" transform="rotate(-45 72.6 489.9)">IL6</text>
<text x="93.3" y="489.9" font-size="7" text-anchor="end" textLength="28" lengthAdjust="spacingAndGlyphs" transform="rotate(-45 93.3 489.9)">IL6 + JAKi</text>
<line x1="153.5" y1="419.3" x2="153.5" y2="479.4" stroke="#000" stroke-width="1.3"/>
<line x1="150.4" y1="478.5" x2="153" y2="478.5" stroke="#000" stroke-width="0.9"/>
<text x="147.1" y="480.92" font-size="5.6" text-anchor="end">-10</text>
<line x1="150.4" y1="459.5" x2="153" y2="459.5" stroke="#000" stroke-width="0.9"/>
<text x="147.1" y="461.92" font-size="5.6" text-anchor="end">0</text>
<line x1="150.4" y1="440.5" x2="153" y2="440.5" stroke="#000" stroke-width="0.9"/>
<text x="147.1" y="442.92" font-size="5.6" text-anchor="end">10</text>
<line x1="150.4" y1="421.5" x2="153" y2="421.5" stroke="#000" stroke-width="0.9"/>
<text x="147.1" y="423.92" font-size="5.6" text-anchor="end">20</text>
<line x1="153.5" y1="460.2" x2="197" y2="460.2" stroke="#444" stroke-width="0.85" stroke-dasharray="1.5 0.6"/>
<line x1="152.5" y1="478.5" x2="202.5" y2="478.5" stroke="#000" stroke-width="1.3"/>
<line x1="167.5" y1="478.9" x2="167.5" y2="480.9" stroke="#000" stroke-width="0.9"/>
<line x1="187.5" y1="478.9" x2="187.5" y2="480.9" stroke="#000" stroke-width="0.9"/>
<text x="177.8" y="414.25" font-size="8.7" text-anchor="middle" textLength="60.1" lengthAdjust="spacingAndGlyphs" class="t">Healthy Donors</text>
<text x="177.4" y="421" font-size="4.8" text-anchor="middle" class="t">ns</text>
<line x1="167" y1="453.2" x2="187.6" y2="460" stroke="#000" stroke-width="0.95"/>
<line x1="167" y1="456.7" x2="187.6" y2="461" stroke="#000" stroke-width="0.95"/>
<line x1="167" y1="460.2" x2="187.6" y2="460.5" stroke="#000" stroke-width="0.95"/>
<line x1="167" y1="461.5" x2="187.6" y2="462" stroke="#000" stroke-width="0.95"/>
<line x1="167" y1="462.8" x2="187.6" y2="461" stroke="#000" stroke-width="0.95"/>
<line x1="167" y1="464" x2="187.6" y2="462.5" stroke="#000" stroke-width="0.95"/>
<line x1="167" y1="465.3" x2="187.6" y2="461.5" stroke="#000" stroke-width="0.95"/>
<line x1="167" y1="463" x2="187.6" y2="463" stroke="#000" stroke-width="0.95"/>
<circle cx="167" cy="453.2" r="1.2" fill="#0b1f68"/>
<circle cx="187.6" cy="460" r="1.2" fill="#5cb43a"/>
<circle cx="167" cy="456.7" r="1.2" fill="#0b1f68"/>
<circle cx="187.6" cy="461" r="1.2" fill="#5cb43a"/>
<circle cx="167" cy="460.2" r="1.2" fill="#0b1f68"/>
<circle cx="187.6" cy="460.5" r="1.2" fill="#5cb43a"/>
<circle cx="167" cy="461.5" r="1.2" fill="#0b1f68"/>
<circle cx="187.6" cy="462" r="1.2" fill="#5cb43a"/>
<circle cx="167" cy="462.8" r="1.2" fill="#0b1f68"/>
<circle cx="187.6" cy="461" r="1.2" fill="#5cb43a"/>
<circle cx="167" cy="464" r="1.2" fill="#0b1f68"/>
<circle cx="187.6" cy="462.5" r="1.2" fill="#5cb43a"/>
<circle cx="167" cy="465.3" r="1.2" fill="#0b1f68"/>
<circle cx="187.6" cy="461.5" r="1.2" fill="#5cb43a"/>
<circle cx="167" cy="463" r="1.2" fill="#0b1f68"/>
<circle cx="187.6" cy="463" r="1.2" fill="#5cb43a"/>
<text x="124.9" y="449.6" font-size="8.4" text-anchor="middle" textLength="75.6" lengthAdjust="spacingAndGlyphs" transform="rotate(-90 124.9 449.6)">Delta% pS6+ of all CD4+</text>
<text x="136.7" y="448.4" font-size="8.4" text-anchor="middle" textLength="17.4" lengthAdjust="spacingAndGlyphs" transform="rotate(-90 136.7 448.4)">T cells</text>
<text x="171.6" y="489.9" font-size="7" text-anchor="end" textLength="8.4" lengthAdjust="spacingAndGlyphs" transform="rotate(-45 171.6 489.9)">IL6</text>
<text x="192.2" y="489.9" font-size="7" text-anchor="end" textLength="28" lengthAdjust="spacingAndGlyphs" transform="rotate(-45 192.2 489.9)">IL6 + JAKi</text>
<text x="231.6" y="400.31" font-size="11.6" font-weight="bold" fill="#000">I</text>
<line x1="272.5" y1="419.3" x2="272.5" y2="479.1" stroke="#000" stroke-width="1.3"/>
<line x1="269.9" y1="478.5" x2="272.5" y2="478.5" stroke="#000" stroke-width="0.9"/>
<text x="266.6" y="480.62" font-size="5.6" text-anchor="end">-10</text>
<line x1="269.9" y1="459.5" x2="272.5" y2="459.5" stroke="#000" stroke-width="0.9"/>
<text x="266.6" y="461.72" font-size="5.6" text-anchor="end">0</text>
<line x1="269.9" y1="440.5" x2="272.5" y2="440.5" stroke="#000" stroke-width="0.9"/>
<text x="266.6" y="442.82" font-size="5.6" text-anchor="end">10</text>
<line x1="269.9" y1="421.5" x2="272.5" y2="421.5" stroke="#000" stroke-width="0.9"/>
<text x="266.6" y="423.92" font-size="5.6" text-anchor="end">20</text>
<line x1="273" y1="460" x2="316.2" y2="460" stroke="#444" stroke-width="0.85" stroke-dasharray="1.5 0.6"/>
<line x1="272" y1="478.5" x2="321.7" y2="478.5" stroke="#000" stroke-width="1.3"/>
<line x1="286.5" y1="478.6" x2="286.5" y2="480.6" stroke="#000" stroke-width="0.9"/>
<line x1="307.5" y1="478.6" x2="307.5" y2="480.6" stroke="#000" stroke-width="0.9"/>
<text x="296.8" y="413.75" font-size="8.7" text-anchor="middle" textLength="22.2" lengthAdjust="spacingAndGlyphs" class="t">iMCD</text>
<line x1="284.9" y1="421.5" x2="309.3" y2="421.5" stroke="#222" stroke-width="1"/>
<circle cx="295.85" cy="419" r="0.72" fill="#333"/>
<circle cx="298.35" cy="419" r="0.72" fill="#333"/>
<line x1="286.4" y1="437.1" x2="307.1" y2="457.8" stroke="#000" stroke-width="0.95"/>
<line x1="286.4" y1="441.6" x2="307.1" y2="457.8" stroke="#000" stroke-width="0.95"/>
<line x1="286.4" y1="447.6" x2="307.1" y2="469" stroke="#000" stroke-width="0.95"/>
<line x1="286.4" y1="448.9" x2="307.1" y2="457.8" stroke="#000" stroke-width="0.95"/>
<line x1="286.4" y1="453.1" x2="307.1" y2="467.4" stroke="#000" stroke-width="0.95"/>
<line x1="286.4" y1="454.5" x2="307.1" y2="457.8" stroke="#000" stroke-width="0.95"/>
<line x1="286.4" y1="455.8" x2="307.1" y2="471.1" stroke="#000" stroke-width="0.95"/>
<line x1="286.4" y1="459.8" x2="307.1" y2="473.1" stroke="#000" stroke-width="0.95"/>
<circle cx="286.4" cy="437.1" r="1.2" fill="#aa001a"/>
<circle cx="307.1" cy="457.8" r="1.2" fill="#5cb43a"/>
<circle cx="286.4" cy="441.6" r="1.2" fill="#aa001a"/>
<circle cx="307.1" cy="457.8" r="1.2" fill="#5cb43a"/>
<circle cx="286.4" cy="447.6" r="1.2" fill="#aa001a"/>
<circle cx="307.1" cy="469" r="1.2" fill="#5cb43a"/>
<circle cx="286.4" cy="448.9" r="1.2" fill="#aa001a"/>
<circle cx="307.1" cy="457.8" r="1.2" fill="#5cb43a"/>
<circle cx="286.4" cy="453.1" r="1.2" fill="#aa001a"/>
<circle cx="307.1" cy="467.4" r="1.2" fill="#5cb43a"/>
<circle cx="286.4" cy="454.5" r="1.2" fill="#aa001a"/>
<circle cx="307.1" cy="457.8" r="1.2" fill="#5cb43a"/>
<circle cx="286.4" cy="455.8" r="1.2" fill="#aa001a"/>
<circle cx="307.1" cy="471.1" r="1.2" fill="#5cb43a"/>
<circle cx="286.4" cy="459.8" r="1.2" fill="#aa001a"/>
<circle cx="307.1" cy="473.1" r="1.2" fill="#5cb43a"/>
<text x="244.9" y="449.6" font-size="8.4" text-anchor="middle" textLength="75.6" lengthAdjust="spacingAndGlyphs" transform="rotate(-90 244.9 449.6)">Delta% pS6+ of all CD8+</text>
<text x="256.1" y="448.4" font-size="8.4" text-anchor="middle" textLength="17.4" lengthAdjust="spacingAndGlyphs" transform="rotate(-90 256.1 448.4)">T cells</text>
<text x="291" y="489.6" font-size="7" text-anchor="end" textLength="8.4" lengthAdjust="spacingAndGlyphs" transform="rotate(-45 291 489.6)">IL6</text>
<text x="311.7" y="489.6" font-size="7" text-anchor="end" textLength="28" lengthAdjust="spacingAndGlyphs" transform="rotate(-45 311.7 489.6)">IL6 + JAKi</text>
<line x1="371.5" y1="419.3" x2="371.5" y2="479.1" stroke="#000" stroke-width="1.3"/>
<line x1="369" y1="478.5" x2="371.6" y2="478.5" stroke="#000" stroke-width="0.9"/>
<text x="365.7" y="480.62" font-size="5.6" text-anchor="end">-10</text>
<line x1="369" y1="459.5" x2="371.6" y2="459.5" stroke="#000" stroke-width="0.9"/>
<text x="365.7" y="461.72" font-size="5.6" text-anchor="end">0</text>
<line x1="369" y1="440.5" x2="371.6" y2="440.5" stroke="#000" stroke-width="0.9"/>
<text x="365.7" y="442.82" font-size="5.6" text-anchor="end">10</text>
<line x1="369" y1="421.5" x2="371.6" y2="421.5" stroke="#000" stroke-width="0.9"/>
<text x="365.7" y="423.92" font-size="5.6" text-anchor="end">20</text>
<line x1="372.1" y1="460" x2="415" y2="460" stroke="#444" stroke-width="0.85" stroke-dasharray="1.5 0.6"/>
<line x1="371.1" y1="478.5" x2="420.5" y2="478.5" stroke="#000" stroke-width="1.3"/>
<line x1="385.5" y1="478.6" x2="385.5" y2="480.6" stroke="#000" stroke-width="0.9"/>
<line x1="406.5" y1="478.6" x2="406.5" y2="480.6" stroke="#000" stroke-width="0.9"/>
<text x="395.9" y="414.25" font-size="8.7" text-anchor="middle" textLength="60.1" lengthAdjust="spacingAndGlyphs" class="t">Healthy Donors</text>
<text x="396.2" y="422.3" font-size="4.8" text-anchor="middle" class="t">ns</text>
<line x1="385.4" y1="453.6" x2="406" y2="466" stroke="#000" stroke-width="0.95"/>
<line x1="385.4" y1="457.4" x2="406" y2="464" stroke="#000" stroke-width="0.95"/>
<line x1="385.4" y1="458.6" x2="406" y2="462" stroke="#000" stroke-width="0.95"/>
<line x1="385.4" y1="461.4" x2="406" y2="463" stroke="#000" stroke-width="0.95"/>
<line x1="385.4" y1="464.7" x2="406" y2="462" stroke="#000" stroke-width="0.95"/>
<line x1="385.4" y1="465.9" x2="406" y2="461.5" stroke="#000" stroke-width="0.95"/>
<line x1="385.4" y1="469.7" x2="406" y2="464" stroke="#000" stroke-width="0.95"/>
<line x1="385.4" y1="460" x2="406" y2="468" stroke="#000" stroke-width="0.95"/>
<circle cx="385.4" cy="453.6" r="1.2" fill="#0b1f68"/>
<circle cx="406" cy="466" r="1.2" fill="#5cb43a"/>
<circle cx="385.4" cy="457.4" r="1.2" fill="#0b1f68"/>
<circle cx="406" cy="464" r="1.2" fill="#5cb43a"/>
<circle cx="385.4" cy="458.6" r="1.2" fill="#0b1f68"/>
<circle cx="406" cy="462" r="1.2" fill="#5cb43a"/>
<circle cx="385.4" cy="461.4" r="1.2" fill="#0b1f68"/>
<circle cx="406" cy="463" r="1.2" fill="#5cb43a"/>
<circle cx="385.4" cy="464.7" r="1.2" fill="#0b1f68"/>
<circle cx="406" cy="462" r="1.2" fill="#5cb43a"/>
<circle cx="385.4" cy="465.9" r="1.2" fill="#0b1f68"/>
<circle cx="406" cy="461.5" r="1.2" fill="#5cb43a"/>
<circle cx="385.4" cy="469.7" r="1.2" fill="#0b1f68"/>
<circle cx="406" cy="464" r="1.2" fill="#5cb43a"/>
<circle cx="385.4" cy="460" r="1.2" fill="#0b1f68"/>
<circle cx="406" cy="468" r="1.2" fill="#5cb43a"/>
<text x="344.1" y="449.6" font-size="8.4" text-anchor="middle" textLength="75.6" lengthAdjust="spacingAndGlyphs" transform="rotate(-90 344.1 449.6)">Delta% pS6+ of all CD8+</text>
<text x="354.9" y="448.4" font-size="8.4" text-anchor="middle" textLength="17.4" lengthAdjust="spacingAndGlyphs" transform="rotate(-90 354.9 448.4)">T cells</text>
<text x="390" y="489.6" font-size="7" text-anchor="end" textLength="8.4" lengthAdjust="spacingAndGlyphs" transform="rotate(-45 390 489.6)">IL6</text>
<text x="410.6" y="489.6" font-size="7" text-anchor="end" textLength="28" lengthAdjust="spacingAndGlyphs" transform="rotate(-45 410.6 489.6)">IL6 + JAKi</text>
<rect x="0" y="0" width="520" height="1.15" fill="#000"/>
<rect x="0" y="0" width="1.15" height="517" fill="#000"/>
<rect x="518.85" y="0" width="1.15" height="517" fill="#000"/>
<rect x="0" y="515.85" width="520" height="1.15" fill="#000"/>
</svg>
</body></html>
